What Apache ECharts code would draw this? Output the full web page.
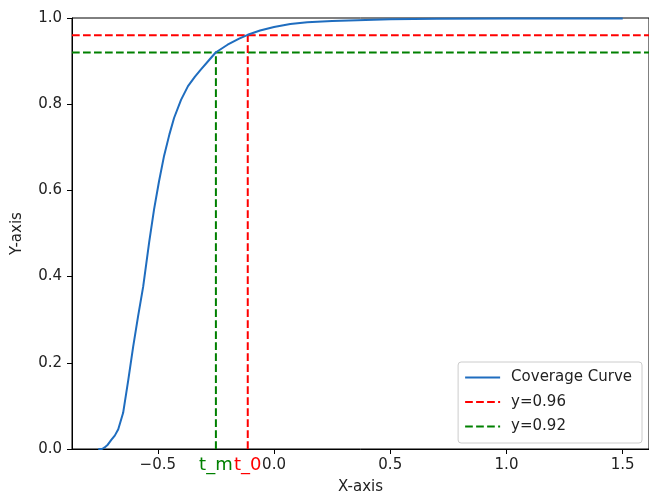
<!DOCTYPE html>
<html>
<head>
<meta charset="utf-8">
<script src="https://cdn.jsdelivr.net/npm/echarts@6/dist/echarts.min.js"></script>
<style>html,body{margin:0;padding:0;background:#fff}#c{width:649px;height:496px}</style>
</head>
<body>
<div id="c"></div>
<script>
// Data
const curveX = [-0.756, -0.74, -0.73, -0.715, -0.70, -0.685, -0.67, -0.649, -0.627, -0.606, -0.585, -0.563, -0.537, -0.516, -0.495, -0.473, -0.45, -0.43, -0.40, -0.37, -0.34, -0.315, -0.28, -0.251, -0.20, -0.15, -0.113, -0.06, 0.0, 0.07, 0.143, 0.25, 0.358, 0.50, 0.70, 1.0, 1.5];
const curveY = [0.0, 0.0, 0.003, 0.01, 0.021, 0.031, 0.046, 0.084, 0.160, 0.237, 0.307, 0.376, 0.480, 0.556, 0.620, 0.680, 0.730, 0.768, 0.810, 0.842, 0.864, 0.880, 0.902, 0.920, 0.938, 0.952, 0.961, 0.971, 0.979, 0.986, 0.990, 0.993, 0.995, 0.997, 0.998, 0.999, 0.999];
const thresholdHigh = 0.96;
const thresholdLow = 0.92;
const t0 = -0.113;
const tm = -0.25;
const xTicks = [-0.5, 0.0, 0.5, 1.0, 1.5];
const yTicks = [0.0, 0.2, 0.4, 0.6, 0.8, 1.0];
const xMin = -0.869, xMax = 1.613;

const FONT = 'DejaVu Sans';
const FS = 15;
const BLUE = '#1f6dbf', RED = '#ff0000', GREEN = '#008000';
const dash = [7.7, 3.3];

const fmt = v => (v < 0 ? '\u2212' : '') + Math.abs(v).toFixed(1);

function vline(x, yTop, color, text) {
  return {
    name: 'v_' + text, type: 'line', symbol: 'none', silent: true,
    data: [[x, 0], [x, yTop]],
    lineStyle: { color: color, width: 2, type: dash },
    markPoint: {
      silent: true,
      data: [{
        coord: [x, 0], symbol: 'circle', symbolSize: 1,
        itemStyle: { color: 'rgba(0,0,0,0)' },
        label: { show: true, position: 'bottom', formatter: text, color: color, fontFamily: FONT, fontSize: 18, distance: 7 }
      }]
    }
  };
}

const chart = echarts.init(document.getElementById('c'), null, { renderer: 'canvas' });
chart.setOption({
  animation: false,
  backgroundColor: '#fff',
  grid: { left: 72, top: 18, width: 577, height: 431, outerBoundsMode: 'none', containLabel: false, show: true, borderColor: '#000', borderWidth: 1, backgroundColor: 'transparent' },
  legend: {
    data: ['Coverage Curve', 'y=0.96', 'y=0.92'],
    orient: 'vertical', right: 7, top: 362,
    itemWidth: 35, itemHeight: 14, itemGap: 9.5,
    padding: [8, 10, 9, 6],
    borderColor: '#cccccc', borderWidth: 1, borderRadius: 3,
    backgroundColor: 'rgba(255,255,255,0.8)',
    itemStyle: { opacity: 0 },
    textStyle: { fontFamily: FONT, fontSize: FS, color: '#222', padding: [0, 0, 0, 6] }
  },
  xAxis: {
    type: 'value', min: xMin, max: xMax,
    name: 'X-axis', nameLocation: 'middle', nameGap: 31,
    nameTextStyle: { fontFamily: FONT, fontSize: FS, color: '#222' },
    axisLine: { onZero: false, lineStyle: { color: '#000', width: 1 } },
    axisTick: { show: true, length: 5, lineStyle: { color: '#000' }, customValues: xTicks },
    axisLabel: { fontFamily: FONT, fontSize: FS, color: '#222', margin: 9, formatter: fmt, customValues: xTicks },
    splitLine: { show: false }
  },
  yAxis: {
    type: 'value', min: 0, max: 1, interval: 0.2,
    name: 'Y-axis', nameLocation: 'middle', nameGap: 47,
    nameTextStyle: { fontFamily: FONT, fontSize: FS, color: '#222' },
    axisLine: { show: true, onZero: false, lineStyle: { color: '#000', width: 1 } },
    axisTick: { show: true, length: 5, lineStyle: { color: '#000' } },
    axisLabel: { fontFamily: FONT, fontSize: FS, color: '#222', margin: 10, formatter: v => v.toFixed(1) },
    splitLine: { show: false }
  },
  series: [
    {
      name: 'Coverage Curve', type: 'line', symbol: 'none', smooth: false,
      data: curveX.map((x, i) => [x, curveY[i]]),
      lineStyle: { color: BLUE, width: 2 }, itemStyle: { color: BLUE }, z: 5
    },
    {
      name: 'y=0.96', type: 'line', symbol: 'none',
      data: [[xMin, thresholdHigh], [xMax, thresholdHigh]],
      lineStyle: { color: RED, width: 2, type: dash }, itemStyle: { color: RED }
    },
    {
      name: 'y=0.92', type: 'line', symbol: 'none',
      data: [[xMin, thresholdLow], [xMax, thresholdLow]],
      lineStyle: { color: GREEN, width: 2, type: dash }, itemStyle: { color: GREEN }
    },
    vline(t0, thresholdHigh, RED, 't_0'),
    vline(tm, thresholdLow, GREEN, 't_m')
  ]
});
</script>
</body>
</html>
